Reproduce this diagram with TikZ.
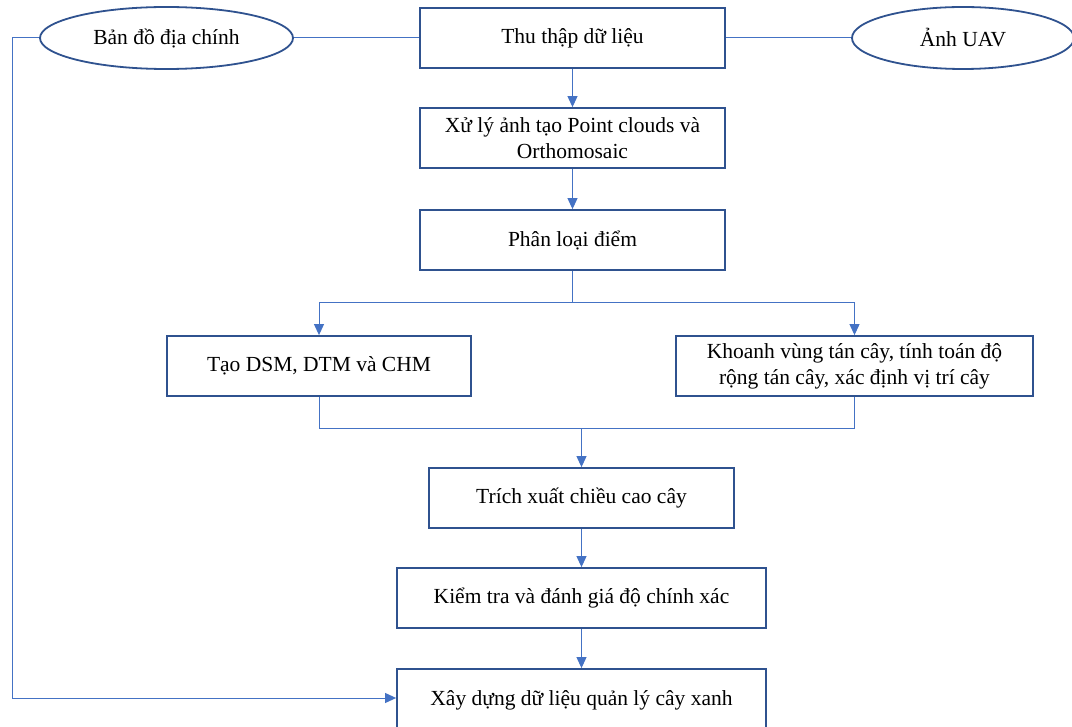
\documentclass[tikz,border=0pt]{standalone}
\usepackage{fontspec}
\setmainfont{Liberation Serif}
\usetikzlibrary{shapes.geometric,arrows.meta}
\definecolor{boxc}{HTML}{2F528F}
\definecolor{linec}{HTML}{4472C4}
\begin{document}
\begin{tikzpicture}[x=1pt,y=-1pt,
  stepbox/.style={draw=boxc,line width=1.8pt,fill=white,minimum height=60pt,align=center,font=\fontsize{21.5}{26}\selectfont,inner sep=0pt},
  oval/.style={draw=boxc,line width=1.8pt,fill=white,ellipse,minimum height=62pt,inner sep=0pt,font=\fontsize{21.5}{26}\selectfont},
  conn/.style={draw=linec,line width=1pt},
  arr/.style={conn,-{Triangle[length=11pt,width=10pt]}}]
\useasboundingbox (0,0) rectangle (1072,727);
\clip (0,0) rectangle (1072,727);
\node[stepbox,minimum width=305pt] (thu) at (572.5,38) {Thu thập dữ liệu};
\node[oval,minimum width=253pt] (bando) at (166.5,38) {Bản đồ địa chính};
\node[oval,minimum width=222pt] (uav) at (963,38) {Ảnh UAV};
\node[stepbox,minimum width=305pt] (xuly) at (572.5,138) {Xử lý ảnh tạo Point clouds và\\Orthomosaic};
\node[stepbox,minimum width=305pt] (phan) at (572.5,240) {Phân loại điểm};
\node[stepbox,minimum width=304pt] (dsm) at (319,366) {Tạo DSM, DTM và CHM};
\node[stepbox,minimum width=357pt] (khoanh) at (854.5,366) {Khoanh vùng tán cây, tính toán độ\\rộng tán cây, xác định vị trí cây};
\node[stepbox,minimum width=305pt] (trich) at (581.5,498) {Trích xuất chiều cao cây};
\node[stepbox,minimum width=369pt] (kiem) at (581.5,598) {Kiểm tra và đánh giá độ chính xác};
\node[stepbox,minimum width=369pt,minimum height=62pt] (xay) at (581.5,700) {Xây dựng dữ liệu quản lý cây xanh};
\coordinate (split) at (572.5,303);
\coordinate (merge) at (581.5,429);
\coordinate (lcorner) at (12,38);
\draw[conn] (bando.east) -- (thu.west);
\draw[conn] (uav.west) -- (thu.east);
\draw[arr] (thu) -- (xuly);
\draw[arr] (xuly) -- (phan);
\draw[conn] (phan.south) -- (split);
\draw[arr] (split) -| (dsm.north);
\draw[arr] (split) -| (khoanh.north);
\draw[conn] (dsm.south) |- (merge);
\draw[conn] (khoanh.south) |- (merge);
\draw[arr] (merge) -- (trich.north);
\draw[arr] (trich) -- (kiem);
\draw[arr] (kiem.south) -- (xay.north);
\draw[arr] (bando.west) -- (lcorner) |- (xay.west |- 0,698);
\end{tikzpicture}
\end{document}
